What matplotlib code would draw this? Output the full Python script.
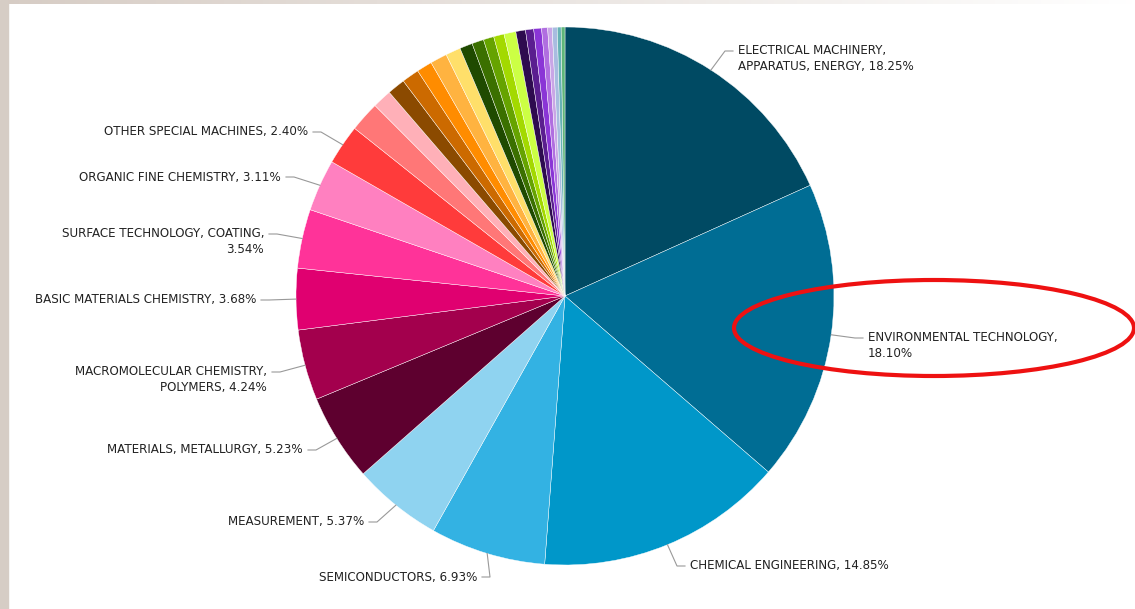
import matplotlib.pyplot as plt
import numpy as np
from matplotlib.patches import Ellipse, Rectangle

# categories and shares (%), clockwise from 12 o'clock
labels = ['ELECTRICAL MACHINERY,\nAPPARATUS, ENERGY', 'ENVIRONMENTAL TECHNOLOGY,\n',
          'CHEMICAL ENGINEERING', 'SEMICONDUCTORS', 'MEASUREMENT',
          'MATERIALS, METALLURGY', 'MACROMOLECULAR CHEMISTRY,\nPOLYMERS',
          'BASIC MATERIALS CHEMISTRY', 'SURFACE TECHNOLOGY, COATING,\n',
          'ORGANIC FINE CHEMISTRY', 'OTHER SPECIAL MACHINES']
shares = [18.25, 18.10, 14.85, 6.93, 5.37, 5.23, 4.24, 3.68, 3.54, 3.11, 2.40]
# unlabelled small fields
small_shares = [1.81, 1.15, 1.07, 1.04, 0.93, 1.01, 0.90, 0.77, 0.71, 0.63,
                0.63, 0.71, 0.58, 0.49, 0.47, 0.36, 0.27, 0.30, 0.23, 0.23]

colors = ['#004a63', '#006d94', '#0097c9', '#33b2e3', '#8fd3f0', '#5e002f',
          '#a3004d', '#e00070', '#ff3399', '#ff80c0', '#ff3b3b']
small_colors = ['#ff7777', '#ffb0b8', '#8b4a00', '#cc6a00', '#ff8c00', '#ffb340',
                '#ffdf6a', '#1f4a00', '#3b7000', '#66a300', '#a3d900', '#ccff44',
                '#2e0b4f', '#5a1e8f', '#8a35d6', '#b06ee0', '#c9a6e6', '#a8bce0',
                '#66b2b5', '#5fb67a']

# label text anchors in pixels (x, y of first line), side of pie
label_pos = [(738, 51, 'r'), (868, 338, 'r'), (690, 566, 'r'), (477, 577, 'l'),
             (364, 522, 'l'), (303, 450, 'l'), (267, 372, 'l'), (256, 300, 'l'),
             (264, 234, 'l'), (281, 177, 'l'), (308, 132, 'l')]

W, H = 1135, 609
fig = plt.figure(figsize=(W / 100, H / 100), dpi=100)
ax = fig.add_axes([0, 0, 1, 1])
ax.set_xlim(0, W)
ax.set_ylim(0, H)
ax.set_aspect('equal')
ax.axis('off')

# frame strips
ax.add_patch(Rectangle((0, 0), 8, H, color='#d6cdc5', zorder=0))
grad = np.linspace(0, 1, 200)
for i in range(len(grad) - 1):
    c = np.array([0.84, 0.80, 0.77]) * (1 - grad[i]) + np.array([1, 1, 1]) * grad[i]
    ax.add_patch(Rectangle((8 + i * W / 200, H - 4), W / 200 + 1, 4, color=c, lw=0, zorder=0))

cx, cy, R = 565, H - 296, 269
wedges, _ = ax.pie(shares + small_shares, colors=colors + small_colors,
                   startangle=90, counterclock=False, center=(cx, cy), radius=R,
                   wedgeprops=dict(linewidth=0.3, edgecolor='white'), frame=True)
ax.set_xlim(0, W)
ax.set_ylim(0, H)
ax.axis('off')

for i, (lab, val) in enumerate(zip(labels, shares)):
    w = wedges[i]
    mid = np.deg2rad((w.theta1 + w.theta2) / 2)
    ex, ey = cx + R * np.cos(mid), cy + R * np.sin(mid)
    tx, ty, side = label_pos[i]
    ty = H - ty
    if lab.endswith('\n'):
        text = lab + '%.2f%%' % val
    else:
        text = lab + ', %.2f%%' % val
    nl = text.count('\n')
    if side == 'r':
        xs = [ex, tx - 13, tx - 5]
        ha = 'left'
    else:
        xs = [ex, tx + 13, tx + 5]
        ha = 'right'
    ax.plot(xs, [ey, ty, ty], color='#999999', lw=0.8, zorder=3)
    ax.text(tx, ty - nl * 7.5, text, ha=ha, va='center', multialignment=ha,
            fontsize=8.6, color='#222222', linespacing=1.25, zorder=4)

ax.add_patch(Ellipse((934, H - 328), 400, 96, fill=False, edgecolor='#ee1111',
                     lw=3, zorder=5, clip_on=False))

fig.savefig('out.png', dpi=100)
